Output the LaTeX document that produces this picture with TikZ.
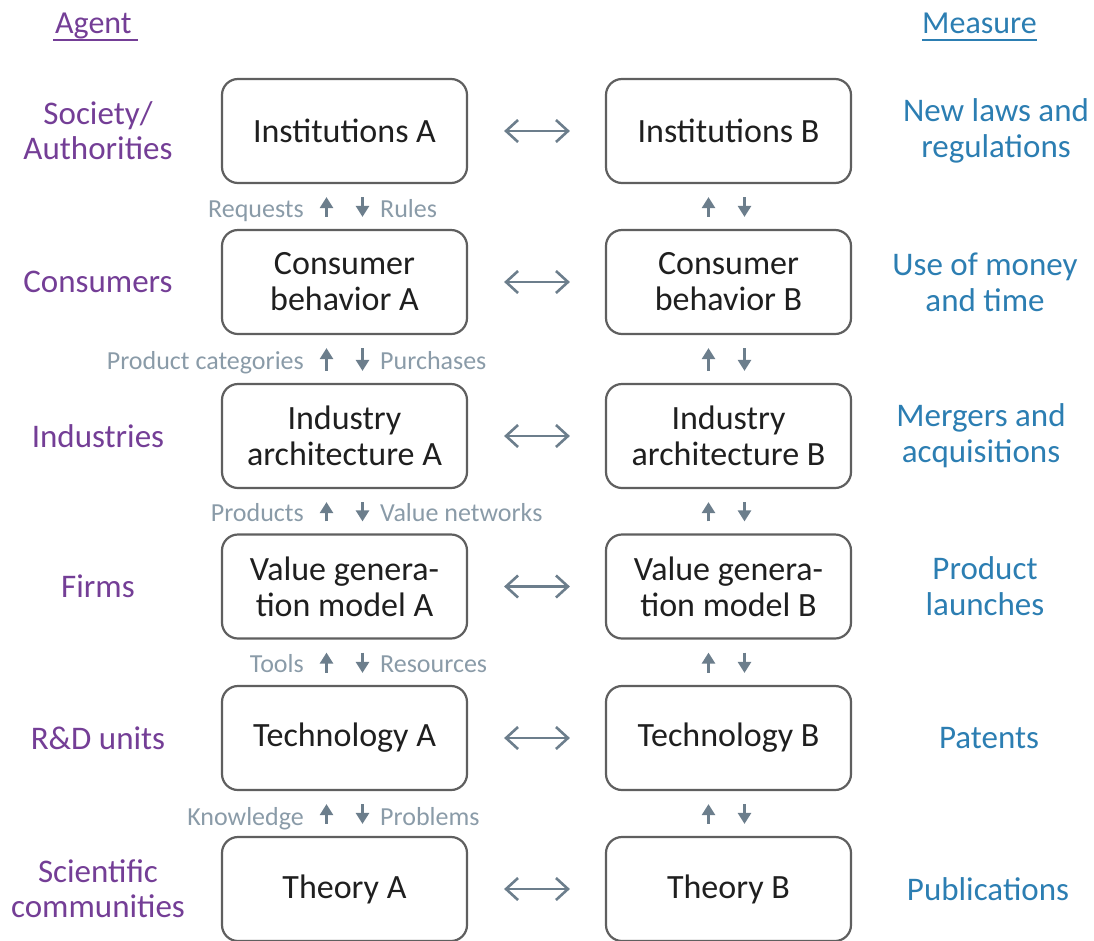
\documentclass[tikz,border=0pt]{standalone}
\usepackage{fontspec}
\setmainfont{Carlito}
\usetikzlibrary{arrows.meta}
\definecolor{agentc}{RGB}{116,62,150}
\definecolor{measc}{RGB}{44,126,178}
\definecolor{arrc}{RGB}{108,126,140}
\definecolor{labc}{RGB}{138,155,168}
\definecolor{boxc}{RGB}{95,95,95}
\tikzset{
  box/.style={draw=boxc, line width=2.2pt, rounded corners=16pt, minimum width=245pt, minimum height=104pt, align=center, font=\fontsize{34}{36}\selectfont, text=black!88, fill=white},
  agent/.style={text=agentc, align=center, font=\fontsize{33}{35}\selectfont},
  meas/.style={text=measc, align=center, font=\fontsize{33}{36}\selectfont},
  hdr/.style={inner sep=0pt, font=\fontsize{32}{35}\selectfont},
  lab/.style={text=labc, inner sep=0pt, font=\fontsize{26}{28}\selectfont},
  harr/.style={draw=arrc, line width=2.6pt, {Straight Barb[length=12pt,width=22pt]}-{Straight Barb[length=12pt,width=22pt]}},
  varr/.style={draw=arrc, line width=2.6pt, -{Triangle[length=11pt,width=13pt]}}
}
\begin{document}
\begin{tikzpicture}[x=1pt,y=-1pt]
\useasboundingbox (0,0) rectangle (1094,940);
% headers
\node[hdr, text=agentc, anchor=base west] (hA) at (55,33) {Agent};
\node[hdr, text=measc, anchor=base west] (hM) at (922,33) {Measure};
\coordinate (uA1) at ([xshift=-2pt,yshift=-7pt]hA.base west);
\coordinate (uA2) at ([xshift=6pt,yshift=-7pt]hA.base east);
\coordinate (uM1) at ([yshift=-7pt]hM.base west);
\coordinate (uM2) at ([yshift=-7pt]hM.base east);
\draw[agentc, line width=2pt] (uA1) -- (uA2);
\draw[measc, line width=2pt] (uM1) -- (uM2);
% boxes A
\node[box] (a1) at (344.5,131) {Institutions A};
\node[box] (a2) at (344.5,282) {Consumer\\behavior A};
\node[box] (a3) at (344.5,436) {Industry\\architecture A};
\node[box] (a4) at (344.5,586.5) {Value genera-\\tion model A};
\node[box] (a5) at (344.5,738) {Technology A};
\node[box] (a6) at (344.5,889) {Theory A};
% boxes B
\node[box] (b1) at (728.5,131) {Institutions B};
\node[box] (b2) at (728.5,282) {Consumer\\behavior B};
\node[box] (b3) at (728.5,436) {Industry\\architecture B};
\node[box] (b4) at (728.5,586.5) {Value genera-\\tion model B};
\node[box] (b5) at (728.5,738) {Technology B};
\node[box] (b6) at (728.5,889) {Theory B};
% agents
\node[agent] (g1) at (98,131) {Society/\\Authorities};
\node[agent] (g2) at (98,282) {Consumers};
\node[agent] (g3) at (98,436) {Industries};
\node[agent] (g4) at (98,586.5) {Firms};
\node[agent] (g5) at (98,738) {R\&D units};
\node[agent] (g6) at (98,889) {Scientific\\communities};
% measures
\node[meas] (m1) at (996,131) {New laws and\\regulations};
\node[meas] (m2) at (985,282) {Use of money\\and time};
\node[meas] (m3) at (981,436) {Mergers and\\acquisitions};
\node[meas] (m4) at (985,586.5) {Product\\launches};
\node[meas] (m5) at (989,738) {Patents};
\node[meas] (m6) at (988,889) {Publications};
% horizontal arrows
\foreach \i in {1,...,6}{
  \draw[harr] ([xshift=36pt]a\i.east) -- ([xshift=-35pt]b\i.west);
}
% vertical arrows
\foreach \u/\l in {1/2,2/3,3/4,4/5,5/6}{
  \draw[varr] ([xshift=-18pt,yshift=12pt]a\l.north) -- ([xshift=-18pt,yshift=-13pt]a\u.south);
  \draw[varr] ([xshift=18pt,yshift=-13pt]a\u.south) -- ([xshift=18pt,yshift=12pt]a\l.north);
  \draw[varr] ([xshift=-20pt,yshift=12pt]b\l.north) -- ([xshift=-20pt,yshift=-13pt]b\u.south);
  \draw[varr] ([xshift=16pt,yshift=-13pt]b\u.south) -- ([xshift=16pt,yshift=12pt]b\l.north);
}
% flow labels
\node[lab, anchor=base east] (l1a) at (304,217) {Requests};
\node[lab, anchor=base west] (l1b) at (380,217) {Rules};
\node[lab, anchor=base east] (l2a) at (304,369) {Product categories};
\node[lab, anchor=base west] (l2b) at (380,369) {Purchases};
\node[lab, anchor=base east] (l3a) at (304,521) {Products};
\node[lab, anchor=base west] (l3b) at (380,521) {Value networks};
\node[lab, anchor=base east] (l4a) at (304,672) {Tools};
\node[lab, anchor=base west] (l4b) at (380,672) {Resources};
\node[lab, anchor=base east] (l5a) at (304,825) {Knowledge};
\node[lab, anchor=base west] (l5b) at (380,825) {Problems};
\end{tikzpicture}
\end{document}
